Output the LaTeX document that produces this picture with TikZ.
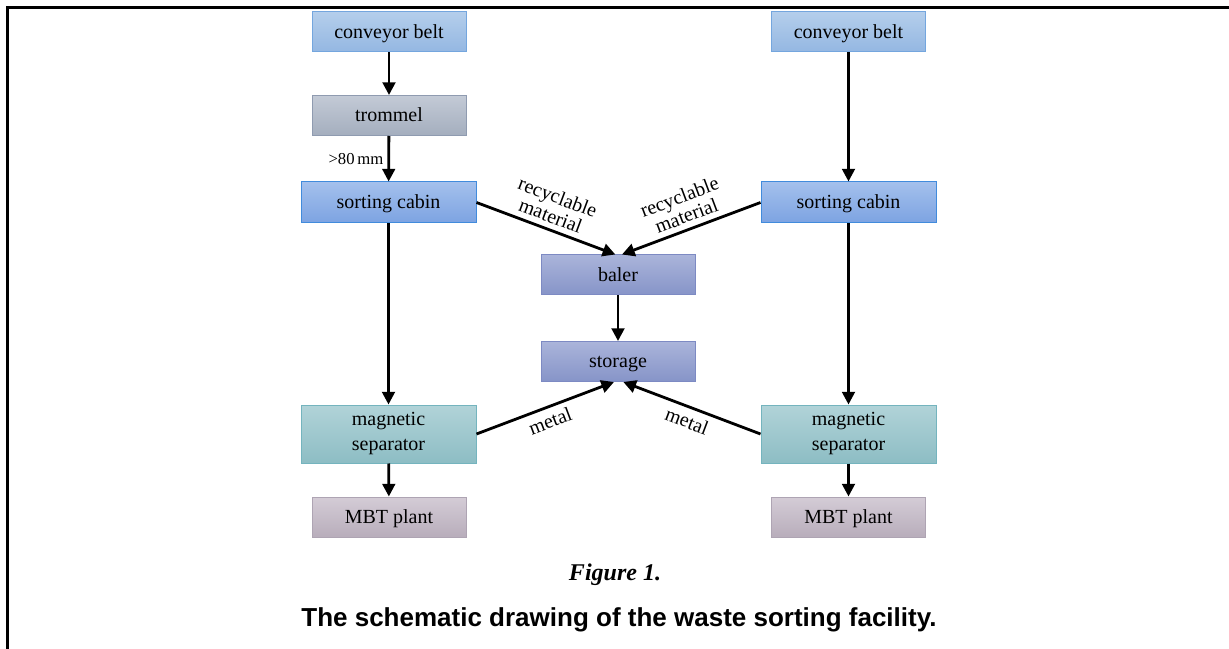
\documentclass[tikz,border=0pt]{standalone}
\usepackage{fontspec}
\setmainfont{Liberation Serif}
\setsansfont{Liberation Sans}
\usetikzlibrary{arrows.meta}

\definecolor{beltTop}{HTML}{B4CEEB}
\definecolor{beltBot}{HTML}{94B7E2}
\definecolor{beltLine}{HTML}{74A6DE}
\definecolor{tromTop}{HTML}{C3CAD6}
\definecolor{tromBot}{HTML}{A4AEBE}
\definecolor{tromLine}{HTML}{8F9BB0}
\definecolor{cabTop}{HTML}{A4C0EC}
\definecolor{cabBot}{HTML}{7CA3E2}
\definecolor{cabLine}{HTML}{418BDC}
\definecolor{balTop}{HTML}{AAB4DA}
\definecolor{balBot}{HTML}{8694C8}
\definecolor{balLine}{HTML}{7D8AC3}
\definecolor{magTop}{HTML}{B1D3D8}
\definecolor{magBot}{HTML}{8DBDC4}
\definecolor{magLine}{HTML}{74B4BE}
\definecolor{mbtTop}{HTML}{D4CCD6}
\definecolor{mbtBot}{HTML}{B8ADBB}
\definecolor{mbtLine}{HTML}{AEA4B3}

\tikzset{
  unit/.style={draw, line width=0.75pt, minimum width=115.5pt, minimum height=30pt,
    inner sep=0pt, align=center, font=\fontsize{15}{18.75}\selectfont},
  oneline/.style={text height=12pt, text depth=2.5pt},
  belt/.style={unit, oneline, draw=beltLine, top color=beltTop, bottom color=beltBot},
  drum/.style={unit, oneline, draw=tromLine, top color=tromTop, bottom color=tromBot},
  cabin/.style={unit, oneline, draw=cabLine, top color=cabTop, bottom color=cabBot,
    minimum width=131.25pt, minimum height=30.75pt},
  press/.style={unit, oneline, draw=balLine, top color=balTop, bottom color=balBot},
  magnet/.style={unit, draw=magLine, top color=magTop, bottom color=magBot,
    minimum width=131.25pt, minimum height=43.5pt},
  plant/.style={unit, oneline, draw=mbtLine, top color=mbtTop, bottom color=mbtBot},
  flow/.style={-{Triangle[length=9.5pt,width=9.5pt]}, line width=2.1pt},
  lab/.style={font=\fontsize{15}{15}\selectfont, align=center, inner sep=4pt}
}

\begin{document}
\begin{tikzpicture}[x=0.75pt,y=-0.75pt]
  \useasboundingbox (0,0) rectangle (1229,649);
  % frame
  \draw[line width=2.25pt, line join=miter] (7,649) -- (7,8) -- (1229,8);

  % left line
  \node[belt] (cb1) at (389,32) {conveyor belt};
  \node[drum] (trom) at (389,115.5) {trommel};
  \node[cabin] (sc1) at (388.5,202.5) {sorting cabin};
  \node[magnet] (ms1) at (388.5,434) {magnetic\\separator};
  \node[plant] (mbt1) at (389,517) {MBT plant};

  % right line
  \node[belt] (cb2) at (848.5,32) {conveyor belt};
  \node[cabin] (sc2) at (848.5,202.5) {sorting cabin};
  \node[magnet] (ms2) at (848.5,434) {magnetic\\separator};
  \node[plant] (mbt2) at (848.5,517) {MBT plant};

  % middle
  \node[press] (baler) at (618,275) {baler};
  \node[press] (store) at (618,361.5) {storage};

  \draw[flow] (cb1) -- (trom);
  \draw[flow] (trom) -- node[left, font=\fontsize{12.5}{13}\selectfont, inner sep=3pt] {>80\,mm} (sc1);
  \draw[flow] (sc1) -- (ms1);
  \draw[flow] (ms1) -- (mbt1);
  \draw[flow] (cb2) -- (sc2);
  \draw[flow] (sc2) -- (ms2);
  \draw[flow] (ms2) -- (mbt2);
  \draw[flow] (baler) -- (store);

  \draw[flow] (sc1.east) -- node[lab, sloped, above] {recyclable\\material} ([xshift=-2pt]baler.north);
  \draw[flow] (sc2.west) -- node[lab, sloped, above] {recyclable\\material} ([xshift=3pt]baler.north);
  \draw[flow] (ms1.east) -- node[lab, sloped, below] {metal} ([xshift=-3pt]store.south);
  \draw[flow] (ms2.west) -- node[lab, sloped, below] {metal} ([xshift=4pt]store.south);

  % caption
  \node[font=\fontsize{18}{20}\selectfont\bfseries\itshape] (fig) at (615,575) {Figure 1.};
  \node[font=\sffamily\fontsize{19.5}{22}\selectfont\bfseries] (cap) at (619,620)
    {The schematic drawing of the waste sorting facility.};
\end{tikzpicture}
\end{document}
